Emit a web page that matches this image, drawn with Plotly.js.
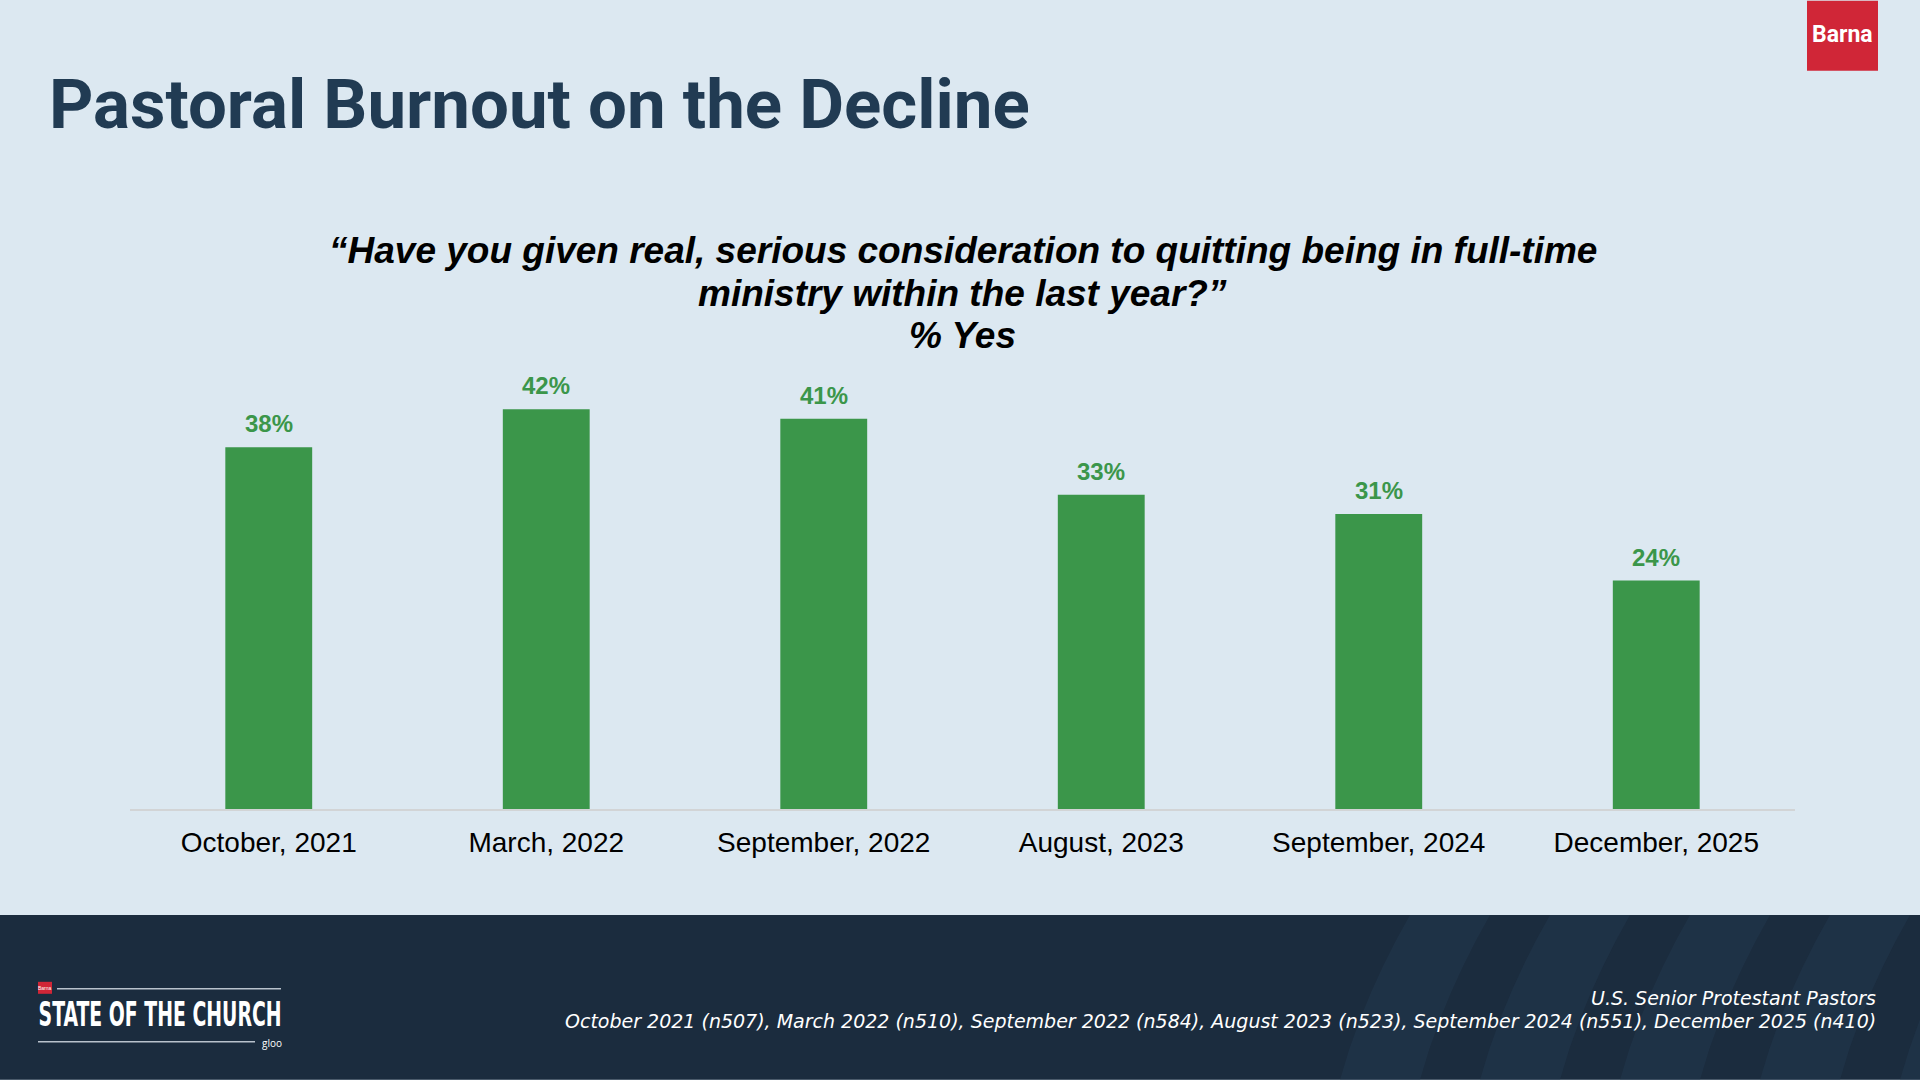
<!DOCTYPE html>
<html>
<head>
<meta charset="utf-8">
<script src="https://cdn.plot.ly/plotly-3.0.1.min.js"></script>
<style>
html,body{margin:0;padding:0;background:#dce8f1;}
#chart{width:1920px;height:1080px;}
</style>
</head>
<body>
<div id="chart"></div>
<script>
// ---- data ----
const categories = ["October, 2021", "March, 2022", "September, 2022", "August, 2023", "September, 2024", "December, 2025"];
const pctYes = [38, 42, 41, 33, 31, 24];
const valueLabels = ["38%", "42%", "41%", "33%", "31%", "24%"];
const chartTitle = "Pastoral Burnout on the Decline";
const questionLines = ["\u201cHave you given real, serious consideration to quitting being in full-time", "ministry within the last year?\u201d", "% Yes"];
const sourceLines = ["U.S. Senior Protestant Pastors", "October 2021 (n507), March 2022 (n510), September 2022 (n584), August 2023 (n523), September 2024 (n551), December 2025 (n410)"];

// ---- layout helpers (pixel -> paper) ----
const L = 130, R = 1795, B = 809, T = 332.5;
const fx = px => (px - L) / (R - L);
const fy = py => (B - py) / (B - T);

const green = "#3b964a";
const bg = "#dce8f1";
const navy = "#1b2c3e";

const shapes = [];
// footer band
shapes.push({type:"rect", xref:"paper", yref:"paper", x0:fx(0), x1:fx(1920), y0:fy(1080), y1:fy(915), fillcolor:navy, line:{width:0}, layer:"below"});
// footer stripes (subtle curved bands)
const stripeStarts = [1340, 1480, 1620, 1760, 1900];
stripeStarts.forEach(s => {
  const w = 80, lean = 70, bow = 12;
  const p = `M ${fx(s)},${fy(1080)} Q ${fx(s + lean/2 - bow)},${fy(997)} ${fx(s + lean)},${fy(915)} L ${fx(s + lean + w)},${fy(915)} Q ${fx(s + w + lean/2 - bow)},${fy(997)} ${fx(s + w)},${fy(1080)} Z`;
  shapes.push({type:"path", xref:"paper", yref:"paper", path:p, fillcolor:"#233a50", opacity:0.45, line:{width:0}, layer:"below"});
});
// Barna logo top right
shapes.push({type:"rect", xref:"paper", yref:"paper", x0:fx(1807), x1:fx(1878), y0:fy(70), y1:fy(0), fillcolor:"#d02637", line:{width:0}});
// State of the church logo
shapes.push({type:"rect", xref:"paper", yref:"paper", x0:fx(38), x1:fx(52), y0:fy(994), y1:fy(982), fillcolor:"#d02637", line:{width:0}});
shapes.push({type:"line", xref:"paper", yref:"paper", x0:fx(57), x1:fx(281), y0:fy(989), y1:fy(989), line:{color:"#b9c2cc", width:1.5}});
shapes.push({type:"line", xref:"paper", yref:"paper", x0:fx(38), x1:fx(255), y0:fy(1042), y1:fy(1042), line:{color:"#b9c2cc", width:1.5}});

const annotations = [];
// value labels from data
categories.forEach((c, i) => {
  annotations.push({x:c, y:pctYes[i], xref:"x", yref:"y", text:valueLabels[i], showarrow:false,
    yanchor:"bottom", yshift:8, font:{family:"Liberation Sans, Arial", size:24, color:green, weight:700}});
});
// title
annotations.push({xref:"paper", yref:"paper", x:fx(47), y:fy(104), xanchor:"left", yanchor:"middle", showarrow:false,
  text:chartTitle, font:{family:"Roboto", size:69, color:"#213b53", weight:700}});
// question (one annotation per line)
const qY = [250, 293, 335];
questionLines.forEach((ln, i) => {
  annotations.push({xref:"paper", yref:"paper", x:fx(963), y:fy(qY[i]), xanchor:"center", yanchor:"middle", showarrow:false,
    text:"<b><i>" + ln + "</i></b>", font:{family:"Liberation Sans, Arial", size:37, color:"#000000"}});
});
// source lines
annotations.push({xref:"paper", yref:"paper", x:fx(1878), y:fy(998), xanchor:"right", yanchor:"middle", showarrow:false,
  text:"<i>" + sourceLines[0] + "</i>", font:{family:"DejaVu Sans", size:19, color:"#ffffff"}});
annotations.push({xref:"paper", yref:"paper", x:fx(1878), y:fy(1021), xanchor:"right", yanchor:"middle", showarrow:false,
  text:"<i>" + sourceLines[1] + "</i>", font:{family:"DejaVu Sans", size:19, color:"#ffffff"}});
// Barna logo text
annotations.push({xref:"paper", yref:"paper", x:fx(1842.5), y:fy(34), xanchor:"center", yanchor:"middle", showarrow:false,
  text:"Barna", font:{family:"Roboto", size:23, color:"#ffffff", weight:700}});
// state of the church logo text
const SOTC_INDEX = annotations.length;
annotations.push({xref:"paper", yref:"paper", x:fx(159.5), y:fy(1015), xanchor:"center", yanchor:"middle", showarrow:false,
  text:"STATE OF THE CHURCH", font:{family:"DejaVu Sans Condensed, DejaVu Sans", size:33, color:"#ffffff", weight:700}});
annotations.push({xref:"paper", yref:"paper", x:fx(45), y:fy(988), xanchor:"center", yanchor:"middle", showarrow:false,
  text:"Barna", font:{family:"Liberation Sans", size:5, color:"#ffffff"}});
annotations.push({xref:"paper", yref:"paper", x:fx(260), y:fy(1043), xanchor:"left", yanchor:"middle", showarrow:false,
  text:"gloo", font:{family:"Open Sans", size:10, color:"#ffffff"}});

const trace = {
  type:"bar", x:categories, y:pctYes, marker:{color:green, line:{width:0}},
  hoverinfo:"skip"
};

const layout = {
  width:1920, height:1080,
  margin:{l:L, r:1920-R, t:T, b:1080-B, pad:0},
  paper_bgcolor:bg, plot_bgcolor:bg,
  bargap:0.687,
  showlegend:false,
  xaxis:{type:"category", showline:true, linecolor:"#d2d4d6", linewidth:2, showgrid:false, zeroline:false,
    ticks:"", ticklabelstandoff:7,
    tickfont:{family:"Liberation Sans, Arial", size:28, color:"#000000"}},
  yaxis:{range:[0,50], visible:false, showgrid:false, zeroline:false, fixedrange:true},
  shapes:shapes,
  annotations:annotations
};

Plotly.newPlot("chart", [trace], layout, {displayModeBar:false, staticPlot:true}).then(gd => {
  // condense the logo wordmark to its narrow width
  const ann = gd.querySelectorAll(".annotation")[SOTC_INDEX];
  if (ann) {
    const t = ann.querySelector("text.annotation-text");
    if (t) {
      t.setAttribute("textLength", "243");
      t.setAttribute("lengthAdjust", "spacingAndGlyphs");
    }
  }
});
</script>
</body>
</html>
